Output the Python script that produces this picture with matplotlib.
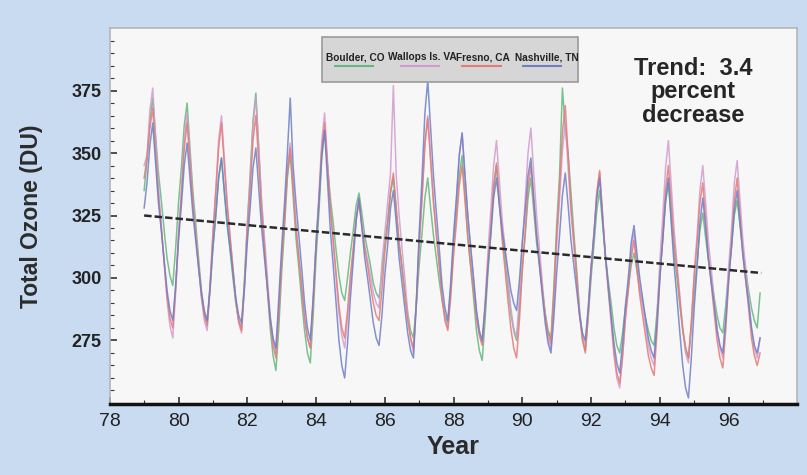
import matplotlib.pyplot as plt
import numpy as np
from matplotlib.patches import Rectangle

# monthly total ozone (DU), Jan 1979 - Dec 1996, one row per year
boulder = [
    335, 347, 363, 372, 357, 342, 331, 319, 308, 301, 297, 312,  # 79
    330, 344, 361, 370, 352, 335, 322, 308, 295, 286, 282, 295,  # 80
    312, 325, 340, 348, 334, 321, 311, 300, 290, 283, 280, 299,  # 81
    322, 341, 363, 374, 352, 330, 313, 296, 280, 269, 263, 280,  # 82
    302, 320, 340, 350, 333, 316, 304, 291, 279, 270, 266, 285,  # 83
    308, 326, 348, 359, 345, 332, 322, 311, 301, 294, 291, 300,  # 84
    310, 319, 329, 334, 326, 317, 311, 305, 298, 294, 292, 302,  # 85
    314, 323, 334, 340, 327, 314, 305, 295, 286, 279, 276, 289,  # 86
    305, 318, 332, 340, 328, 317, 308, 299, 291, 285, 282, 295,  # 87
    312, 326, 341, 349, 333, 316, 304, 292, 279, 271, 267, 283,  # 88
    302, 318, 336, 345, 331, 317, 307, 296, 286, 279, 275, 288,  # 89
    304, 317, 332, 340, 327, 314, 305, 295, 286, 279, 276, 296,  # 90
    321, 341, 376, 360, 350, 334, 318, 303, 287, 276, 271, 284,  # 91
    300, 313, 327, 335, 322, 309, 299, 290, 280, 273, 270, 278,  # 92
    288, 296, 305, 310, 303, 295, 290, 284, 279, 275, 273, 286,  # 93
    302, 315, 330, 338, 324, 310, 300, 289, 279, 272, 268, 280,  # 94
    294, 306, 319, 326, 316, 307, 300, 292, 285, 280, 278, 289,  # 95
    302, 312, 325, 331, 321, 311, 303, 295, 288, 283, 280, 294,  # 96
]

wallops = [
    345, 349, 367, 376, 356, 336, 321, 306, 291, 281, 276, 294,
    317, 335, 355, 366, 349, 331, 318, 305, 292, 283, 279, 296,
    318, 335, 355, 365, 348, 330, 317, 304, 291, 282, 278, 297,
    320, 339, 361, 372, 352, 331, 316, 301, 285, 275, 270, 287,
    308, 325, 344, 354, 338, 321, 309, 297, 284, 276, 272, 291,
    314, 333, 355, 366, 347, 328, 314, 300, 286, 277, 272, 284,
    298, 310, 323, 330, 322, 313, 307, 301, 294, 290, 288, 306,
    318, 330, 342, 377, 341, 325, 312, 300, 286, 276, 270, 289,
    313, 332, 354, 365, 348, 331, 318, 306, 293, 284, 280, 296,
    315, 331, 349, 358, 341, 324, 312, 299, 287, 278, 274, 290,
    310, 327, 345, 355, 339, 323, 312, 300, 288, 280, 276, 293,
    314, 331, 350, 360, 342, 325, 312, 298, 285, 276, 272, 290,
    313, 331, 351, 362, 344, 326, 313, 300, 286, 277, 273, 287,
    304, 318, 334, 342, 325, 308, 295, 282, 269, 260, 256, 268,
    284, 296, 311, 318, 307, 297, 289, 281, 273, 268, 265, 283,
    306, 324, 344, 355, 337, 319, 306, 293, 279, 270, 266, 282,
    302, 317, 335, 345, 330, 314, 303, 291, 280, 272, 268, 284,
    304, 319, 338, 347, 331, 315, 304, 292, 280, 272, 268, 276,
]

fresno = [
    340, 348, 360, 368, 350, 333, 320, 306, 293, 284, 280, 296,
    317, 333, 352, 362, 346, 330, 317, 305, 293, 285, 281, 297,
    317, 334, 352, 362, 345, 329, 316, 304, 291, 283, 279, 296,
    318, 335, 355, 365, 346, 326, 312, 297, 283, 273, 268, 285,
    306, 323, 342, 352, 336, 320, 308, 296, 284, 276, 272, 290,
    313, 331, 351, 362, 345, 328, 315, 302, 289, 280, 276, 287,
    301, 312, 324, 331, 321, 312, 305, 297, 290, 285, 283, 295,
    310, 321, 335, 342, 328, 314, 304, 293, 283, 276, 272, 290,
    313, 332, 353, 364, 347, 330, 317, 305, 292, 283, 279, 292,
    309, 322, 337, 345, 331, 316, 305, 295, 284, 277, 273, 288,
    306, 320, 337, 346, 330, 315, 303, 291, 280, 272, 268, 283,
    303, 318, 336, 345, 331, 317, 306, 295, 285, 278, 274, 293,
    317, 336, 358, 369, 349, 329, 315, 300, 285, 275, 270, 285,
    303, 317, 334, 343, 326, 309, 296, 284, 271, 262, 258, 269,
    284, 295, 308, 315, 304, 293, 285, 277, 269, 264, 261, 278,
    299, 316, 335, 345, 330, 314, 303, 291, 280, 272, 268, 282,
    300, 314, 330, 338, 323, 308, 297, 286, 275, 268, 264, 279,
    298, 313, 331, 340, 325, 310, 299, 288, 276, 269, 265, 270,
]

nashville = [
    328, 338, 353, 362, 346, 330, 319, 307, 295, 287, 283, 297,
    315, 329, 345, 354, 340, 326, 315, 304, 294, 287, 283, 296,
    312, 325, 340, 348, 335, 322, 312, 302, 292, 285, 282, 296,
    314, 328, 344, 352, 336, 320, 308, 296, 284, 276, 272, 292,
    312, 330, 350, 372, 345, 330, 317, 304, 290, 280, 275, 292,
    313, 330, 349, 359, 339, 319, 305, 290, 275, 265, 260, 274,
    292, 307, 323, 332, 320, 308, 300, 291, 282, 276, 273, 285,
    301, 313, 328, 335, 322, 308, 298, 288, 278, 271, 268, 290,
    318, 340, 366, 379, 360, 341, 326, 312, 297, 288, 283, 298,
    317, 332, 349, 358, 341, 325, 312, 300, 287, 279, 275, 288,
    304, 317, 332, 340, 329, 319, 311, 303, 295, 290, 287, 299,
    314, 327, 341, 348, 332, 317, 305, 293, 282, 274, 270, 284,
    302, 317, 333, 342, 329, 315, 305, 295, 285, 278, 275, 288,
    304, 317, 332, 340, 324, 309, 297, 285, 274, 266, 262, 274,
    289, 300, 314, 321, 310, 300, 292, 284, 276, 271, 268, 282,
    300, 315, 331, 340, 322, 305, 292, 278, 265, 256, 252, 268,
    288, 304, 322, 332, 320, 307, 298, 289, 279, 273, 270, 283,
    299, 312, 327, 335, 322, 309, 299, 290, 280, 273, 270, 276,
]

series = [boulder, wallops, fresno, nashville]
series_names = ["Boulder, CO", "Wallops Is. VA", "Fresno, CA", "Nashville, TN"]
series_colors = ["#63b97e", "#d39ccf", "#e47b78", "#6f7fc6"]
first_year = 79

trend_years = [79.0, 96.95]
trend_values = [325, 302]

year_ticks = [78, 80, 82, 84, 86, 88, 90, 92, 94, 96]
ozone_ticks = [275, 300, 325, 350, 375]

sans = ["Liberation Sans", "DejaVu Sans"]

fig = plt.figure(figsize=(8.07, 4.75), dpi=100)
fig.patch.set_facecolor("#c9dbf1")
ax = fig.add_axes([0.136, 0.149, 0.852, 0.792])
ax.set_facecolor("#f7f7f7")

months = first_year + np.arange(len(boulder)) / 12.0
for vals, color in zip(series, series_colors):
    ax.plot(months, vals, color=color, lw=1.1, alpha=0.85)

ax.plot(trend_years, trend_values, color="#2a2a2a", lw=1.8,
        ls=(0, (3, 1.2)))

ax.set_xlim(78, 98)
ax.set_ylim(249.5, 400)
ax.set_xticks(year_ticks)
ax.set_xticklabels([str(y) for y in year_ticks])
ax.set_xticks(np.arange(78, 98, 1), minor=True)
ax.set_yticks(ozone_ticks)
ax.set_yticks(np.arange(255, 400, 5), minor=True)
ax.tick_params(axis="both", which="both", direction="in", colors="#333333")
ax.tick_params(axis="both", which="major", length=5, width=1.2)
ax.tick_params(axis="both", which="minor", length=3, width=0.8)
ax.tick_params(axis="x", pad=6)
ax.tick_params(axis="y", pad=6)
for lab in ax.get_xticklabels():
    lab.set_family(sans)
    lab.set_fontsize(14)
    lab.set_color("#222222")
for lab in ax.get_yticklabels():
    lab.set_family(sans)
    lab.set_fontsize(13)
    lab.set_fontweight("bold")
    lab.set_color("#222222")

for side in ["top", "right", "left"]:
    ax.spines[side].set_color("#b5b5b5")
    ax.spines[side].set_linewidth(1.2)
ax.spines["bottom"].set_color("#111111")
ax.spines["bottom"].set_linewidth(2.5)

ax.set_ylabel("Total Ozone (DU)", family=sans, fontsize=16.5,
              fontweight="bold", color="#2b2b2b", labelpad=20)
ax.set_xlabel("Year", family=sans, fontsize=18, fontweight="bold",
              color="#2b2b2b", labelpad=4)

# legend box drawn by hand: labels with a short coloured line underneath
ax.add_patch(Rectangle((0.309, 0.856), 0.372, 0.12, transform=ax.transAxes,
                       facecolor="#d6d6d6", edgecolor="#9a9a9a", lw=1.2,
                       zorder=5))
label_left = [0.314, 0.405, 0.503, 0.589]
line_mid = [0.355, 0.451, 0.541, 0.629]
for name, color, lx, mx in zip(series_names, series_colors, label_left,
                               line_mid):
    ax.text(lx, 0.922, name, transform=ax.transAxes, ha="left",
            va="center", family=sans, fontsize=7.3, fontweight="bold",
            color="#222222", zorder=6)
    ax.plot([mx - 0.028, mx + 0.028], [0.898, 0.898], transform=ax.transAxes,
            color=color, lw=1.5, zorder=6)

ax.text(0.848, 0.83, "Trend:  3.4\npercent\ndecrease",
        transform=ax.transAxes, ha="center", va="center", family=sans,
        fontsize=17, fontweight="bold", color="#262626", linespacing=1.05)

fig.savefig("out.png", dpi=100, facecolor=fig.get_facecolor())
